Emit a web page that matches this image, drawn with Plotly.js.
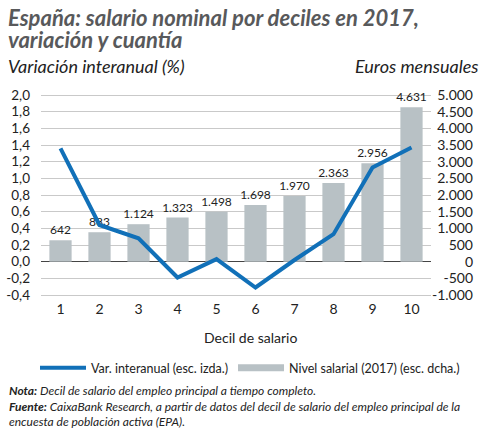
<!DOCTYPE html>
<html>
<head>
<meta charset="utf-8">
<script src="https://cdn.plot.ly/plotly-3.0.1.min.js"></script>
<style>
  html, body { margin: 0; padding: 0; background: #fff; }
  #myDiv { width: 489px; height: 443px; }
</style>
</head>
<body>
<div id="myDiv"></div>
<script>
// deciles y valores
var deciles = [1, 2, 3, 4, 5, 6, 7, 8, 9, 10];
var variacion = [1.36, 0.44, 0.28, -0.19, 0.03, -0.31, 0.02, 0.33, 1.13, 1.37];
var nivel = [642, 883, 1124, 1323, 1498, 1698, 1970, 2363, 2956, 4631];

var pctTicks = [-0.4, -0.2, 0, 0.2, 0.4, 0.6, 0.8, 1.0, 1.2, 1.4, 1.6, 1.8, 2.0];
var pctLabels = ['-0,4', '-0,2', '0,0', '0,2', '0,4', '0,6', '0,8', '1,0', '1,2', '1,4', '1,6', '1,8', '2,0'];
var eurTicks = [-1000, -500, 0, 500, 1000, 1500, 2000, 2500, 3000, 3500, 4000, 4500, 5000];
var eurLabels = ['-1.000', '-500', '0', '500', '1.000', '1.500', '2.000', '2.500', '3.000', '3.500', '4.000', '4.500', '5.000'];

var FONT = 'Lato, "Open Sans", sans-serif';
var BLUE = '#1170b8';
var GREY = '#b8c1c5';

// px -> paper (papel: x 5..484, y 85..305)
function px(x) { return (x - 5) / 479; }
function py(y) { return (305 - y) / 220; }

var bars = {
	x: deciles, y: nivel,
	type: 'bar',
	name: 'Nivel salarial (2017) (esc. dcha.)',
	marker: {color: GREY},
	texttemplate: '%{y:,.0f}',
	textposition: 'outside',
	constraintext: 'none',
	textfont: {family: FONT, size: 12, color: '#222'},
	cliponaxis: false,
	showlegend: false,
	hoverinfo: 'skip'};

var line = {
	x: deciles, y: variacion,
	type: 'scatter', mode: 'lines',
	name: 'Var. interanual (esc. izda.)',
	yaxis: 'y2',
	line: {color: BLUE, width: 4},
	hoverinfo: 'skip'};

// entrada de leyenda para las barras (sin datos, solo leyenda)
var barsKey = {
	x: [null], y: [null],
	type: 'scatter', mode: 'lines',
	name: 'Nivel salarial (2017) (esc. dcha.)',
	line: {color: GREY, width: 7},
	hoverinfo: 'skip'};

var data = [bars, line, barsKey];

var layout = {
	width: 489, height: 443,
	margin: {l: 5, r: 5, t: 85, b: 138},
	paper_bgcolor: '#fff', plot_bgcolor: '#fff',
	separators: ',.',
	font: {family: FONT, size: 14, color: '#222'},
	bargap: 0.43,
	xaxis: {
		domain: [px(41), px(431)],
		range: [0.5, 10.5],
		tickvals: deciles,
		ticks: '', showgrid: false, zeroline: false, showline: false,
		ticklabelstandoff: -6,
		tickfont: {size: 14, color: '#222'}},
	yaxis: {
		side: 'right', anchor: 'free', position: px(476),
		range: [-1300, 5300],
		tickvals: eurTicks, ticktext: eurLabels,
		ticklabelposition: 'inside',
		ticks: '', showgrid: false, zeroline: false, showline: false,
		tickfont: {size: 14, color: '#222'}},
	yaxis2: {
		overlaying: 'y', side: 'left', anchor: 'x',
		range: [-0.52, 2.12],
		tickvals: pctTicks, ticktext: pctLabels,
		ticks: '', showline: false,
		showgrid: true, gridcolor: '#c9c9c9', gridwidth: 1,
		zeroline: true, zerolinecolor: '#444', zerolinewidth: 1.5,
		ticklabelstandoff: 10,
		tickfont: {size: 13.5, color: '#222'}},
	showlegend: true,
	legend: {
		orientation: 'h',
		x: px(250), xanchor: 'center',
		y: py(353), yanchor: 'top',
		itemwidth: 46,
		font: {family: FONT, size: 12.5, color: '#222'},
		traceorder: 'normal'},
	annotations: [
		{text: '<b><i>España: salario nominal por deciles en 2017,</i></b>',
			xref: 'paper', yref: 'paper',
			x: px(6), y: py(17), xanchor: 'left', yanchor: 'middle', align: 'left',
			showarrow: false, font: {size: 22, color: '#58595b'}},
		{text: '<b><i>variación y cuantía</i></b>',
			xref: 'paper', yref: 'paper',
			x: px(6), y: py(39), xanchor: 'left', yanchor: 'middle', align: 'left',
			showarrow: false, font: {size: 22, color: '#58595b'}},
		{text: '<i>Variación interanual (%)</i>', xref: 'paper', yref: 'paper',
			x: px(6), y: py(66), xanchor: 'left', yanchor: 'middle',
			showarrow: false, font: {size: 18, color: '#222'}},
		{text: '<i>Euros mensuales</i>', xref: 'paper', yref: 'paper',
			x: px(481), y: py(66), xanchor: 'right', yanchor: 'middle',
			showarrow: false, font: {size: 18, color: '#222'}},
		{text: 'Decil de salario', xref: 'paper', yref: 'paper',
			x: px(250), y: py(337), xanchor: 'center', yanchor: 'middle',
			showarrow: false, font: {size: 14, color: '#222'}},
		{text: '<b><i>Nota:</i></b><i> Decil de salario del empleo principal a tiempo completo.</i><br>' +
			'<b><i>Fuente:</i></b><i> CaixaBank Research, a partir de datos del decil de salario del empleo principal de la</i><br>' +
			'<i>encuesta de población activa (EPA).</i>',
			xref: 'paper', yref: 'paper',
			x: px(7), y: py(381), xanchor: 'left', yanchor: 'top', align: 'left',
			showarrow: false, font: {size: 12, color: '#222'}}
	]};

Plotly.newPlot('myDiv', data, layout, {staticPlot: true});
</script>
</body>
</html>
